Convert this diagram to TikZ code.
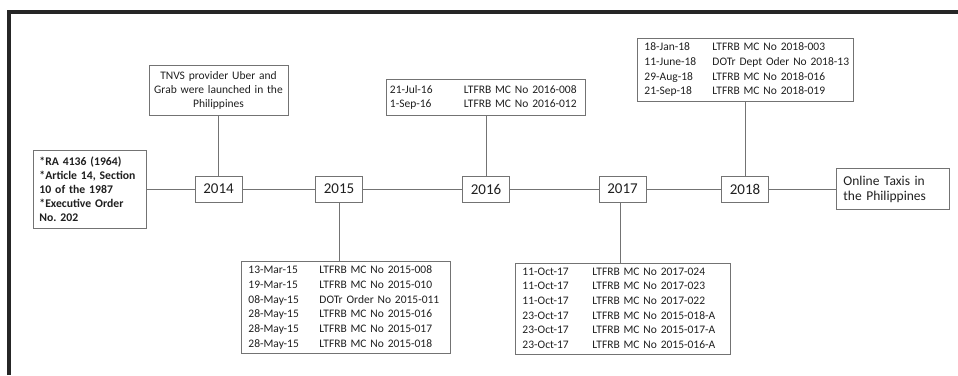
\documentclass[tikz,border=0pt]{standalone}
\usepackage{fontspec}
\setmainfont{Carlito}
\usepackage{array}
\frenchspacing
\begin{document}
\begin{tikzpicture}[x=1pt,y=-1pt,
  frame/.style={line width=3.5pt, draw=black!85},
  box/.style={draw=black!55, line width=0.9pt, inner ysep=0pt, text=black!88},
  yearbox/.style={box, inner xsep=0pt, minimum width=47pt, minimum height=26pt, font=\fontsize{15}{18}\selectfont},
  tablebox/.style={box, align=left, anchor=north west, font=\fontsize{11.5}{14.7}\selectfont},
  conn/.style={draw=black!55, line width=0.9pt}]
\useasboundingbox (0,0) rectangle (958,375);
\draw[frame] (8.8,375) -- (8.8,12) -- (958,12);

% left box
\node[box, anchor=north west, align=left, inner xsep=6pt, text width=101pt, minimum height=78pt,
      font=\bfseries\fontsize{11.7}{14}\selectfont] (left) at (33,150)
  {{*}RA 4136 (1964)\\{*}Article 14, Section\\10 of the 1987\\{*}Executive Order\\No. 202};

% year boxes
\node[yearbox] (y2014) at (218.5,189) {2014};
\node[yearbox] (y2015) at (339,189) {2015};
\node[yearbox] (y2016) at (486,189) {2016};
\node[yearbox] (y2017) at (622.5,189) {2017};
\node[yearbox] (y2018) at (745,189) {2018};

% final box
\node[box, anchor=north west, align=left, inner xsep=7pt, text width=99pt, minimum height=41pt,
      font=\fontsize{13.5}{15}\selectfont] (online) at (836,168)
  {Online Taxis in\\the Philippines};

% TNVS box
\node[box, align=center, inner xsep=3pt, text width=133pt, minimum height=50pt,
      font=\fontsize{11.5}{14}\selectfont] (tnvs) at (218.5,90)
  {TNVS provider Uber and\\Grab were launched in the\\Philippines};

% 2016 box
\node[tablebox, inner xsep=3.5pt, text width=192pt, minimum height=36pt] (b2016) at (386,79)
  {\begin{tabular}{@{}p{74pt}@{}l@{}}
   21-Jul-16 & LTFRB MC No 2016-008\\
   1-Sep-16 & LTFRB MC No 2016-012
   \end{tabular}};

% 2018 box
\node[tablebox, inner xsep=7pt, text width=202pt, minimum height=63pt] (b2018) at (637,38)
  {\begin{tabular}{@{}p{68pt}@{}l@{}}
   18-Jan-18 & LTFRB MC No 2018-003\\
   11-June-18 & DOTr Dept Oder No 2018-13\\
   29-Aug-18 & LTFRB MC No 2018-016\\
   21-Sep-18 & LTFRB MC No 2018-019
   \end{tabular}};

% 2015 box
\node[tablebox, inner xsep=7pt, text width=195pt, minimum height=92pt] (b2015) at (241,261)
  {\begin{tabular}{@{}p{71pt}@{}l@{}}
   13-Mar-15 & LTFRB MC No 2015-008\\
   19-Mar-15 & LTFRB MC No 2015-010\\
   08-May-15 & DOTr Order No 2015-011\\
   28-May-15 & LTFRB MC No 2015-016\\
   28-May-15 & LTFRB MC No 2015-017\\
   28-May-15 & LTFRB MC No 2015-018
   \end{tabular}};

% 2017 box
\node[tablebox, inner xsep=7pt, text width=201pt, minimum height=91pt] (b2017) at (515,263)
  {\begin{tabular}{@{}p{70pt}@{}l@{}}
   11-Oct-17 & LTFRB MC No 2017-024\\
   11-Oct-17 & LTFRB MC No 2017-023\\
   11-Oct-17 & LTFRB MC No 2017-022\\
   23-Oct-17 & LTFRB MC No 2015-018-A\\
   23-Oct-17 & LTFRB MC No 2015-017-A\\
   23-Oct-17 & LTFRB MC No 2015-016-A
   \end{tabular}};

% horizontal timeline
\draw[conn] (left.east |- y2014) -- (y2014.west);
\draw[conn] (y2014) -- (y2015);
\draw[conn] (y2015) -- (y2016);
\draw[conn] (y2016) -- (y2017);
\draw[conn] (y2017) -- (y2018);
\draw[conn] (y2018.east) -- (y2018.east -| online.west);

% vertical connectors
\draw[conn] (y2014.north) -- (y2014.north |- tnvs.south);
\draw[conn] (y2016.north) -- (y2016.north |- b2016.south);
\draw[conn] (y2018.north) -- (y2018.north |- b2018.south);
\draw[conn] (y2015.south) -- (y2015.south |- b2015.north);
\draw[conn] ([xshift=-2.5pt]y2017.south) -- ([xshift=-2.5pt]y2017.south |- b2017.north);
\end{tikzpicture}
\end{document}
